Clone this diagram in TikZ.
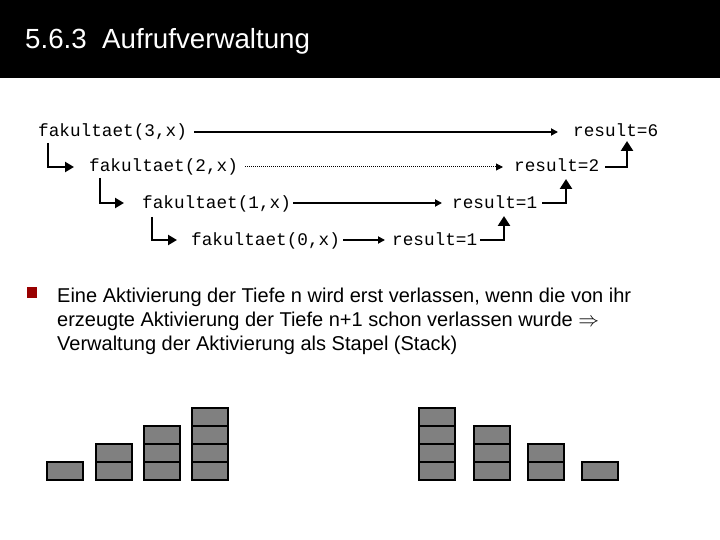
\documentclass[tikz,border=0pt]{standalone}
\usepackage{fontspec}
\setmainfont{Liberation Sans}
\newfontfamily\monofont{Liberation Mono}
\usetikzlibrary{arrows.meta}
\definecolor{bulletred}{HTML}{990000}
\definecolor{boxgray}{HTML}{808080}
\tikzset{
  code/.style={font=\monofont\fontsize{17.7}{20}\selectfont, inner sep=0pt, anchor=base west},
  harr/.style={line width=2pt, -{Triangle[length=7pt,width=7pt]}},
  larr/.style={line width=2.5pt, -{Triangle[length=9pt,width=10pt]}},
  darr/.style={line width=1pt, densely dotted, -{Triangle[length=7pt,width=7pt]}},
  varr/.style={line width=2.5pt, -{Triangle[length=10pt,width=12pt]}},
  cell/.style={draw=black, line width=2pt, fill=boxgray},
}
\begin{document}
\begin{tikzpicture}[x=1pt,y=-1pt]
\useasboundingbox (0,0) rectangle (720,540);
\fill[black] (0,0) rectangle (720,78);
\node[anchor=west, text=white, font=\fontsize{27.7}{32}\selectfont, inner sep=0pt] (title) at (25,41) {5.6.3\ \ Aufrufverwaltung};

% code nodes (base line = row centre + 5)
\node[code] (f3) at (38,137) {fakultaet(3,x)};
\node[code] (f2) at (89,172) {fakultaet(2,x)};
\node[code] (f1) at (142,208) {fakultaet(1,x)};
\node[code] (f0) at (191,245) {fakultaet(0,x)};
\node[code] (r6) at (573,137) {result=6};
\node[code] (r2) at (514,172) {result=2};
\node[code] (r1a) at (452,208) {result=1};
\node[code] (r1b) at (392,245) {result=1};

% horizontal arrows
\draw[harr] ([xshift=7pt,yshift=5pt]f3.base east) -- ([xshift=-15pt,yshift=5pt]r6.base west);
\draw[darr] ([xshift=7pt,yshift=5pt]f2.base east) -- ([xshift=-11pt,yshift=5pt]r2.base west);
\draw[harr] ([xshift=2pt,yshift=5pt]f1.base east) -- ([xshift=-10pt,yshift=5pt]r1a.base west);
\draw[harr] ([xshift=3pt,yshift=5pt]f0.base east) -- ([xshift=-7pt,yshift=5pt]r1b.base west);

% left elbows
\coordinate (e3) at (48,143);
\coordinate (e2) at (100,178);
\coordinate (e1) at (152,217);
\draw[larr] (e3) |- ([xshift=-15pt,yshift=5pt]f2.base west);
\draw[larr] (e2) |- ([xshift=-18pt,yshift=5pt]f1.base west);
\draw[larr] (e1) |- ([xshift=-14pt,yshift=5pt]f0.base west);

% right elbows
\coordinate (u6) at (627,141);
\coordinate (u2) at (566,179);
\coordinate (u1) at (504,216);
\draw[varr] ([xshift=6pt,yshift=5pt]r2.base east) -| (u6);
\draw[varr] ([xshift=5pt,yshift=5pt]r1a.base east) -| (u2);
\draw[varr] ([xshift=3pt,yshift=5pt]r1b.base east) -| (u1);

% bullet
\fill[bulletred] (27,287) rectangle (37,298);
\node[anchor=north west, inner sep=0pt, align=left, font=\fontsize{20}{24}\selectfont] (txt) at (57,288)
{Eine Aktivierung der Tiefe n wird erst verlassen, wenn die von ihr\\
erzeugte Aktivierung der Tiefe n+1 schon verlassen wurde $\Rightarrow$\\
Verwaltung der Aktivierung als Stapel (Stack)};

% stacks left
\foreach \x/\n in {47/1,96/2,144/3,192/4}{
  \foreach \k in {1,...,\n}{
    \draw[cell] (\x,{480-18*(\k-1)}) rectangle ++(36,-18);
  }
}
% stacks right
\foreach \x/\n in {419/4,474/3,528/2,582/1}{
  \foreach \k in {1,...,\n}{
    \draw[cell] (\x,{480-18*(\k-1)}) rectangle ++(36,-18);
  }
}
\end{tikzpicture}
\end{document}
